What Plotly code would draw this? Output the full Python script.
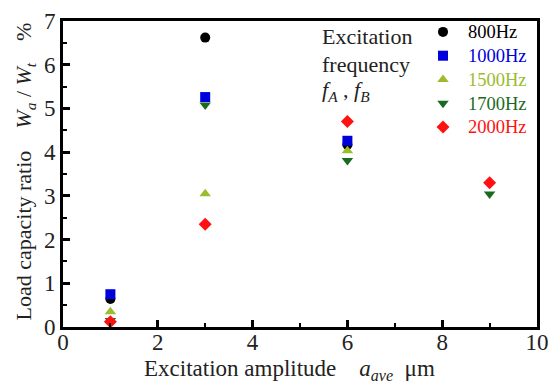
import plotly.graph_objects as go

# Data
amp_short = [1, 3, 6]
amp_long = [1, 3, 6, 9]
v800 = [0.64, 6.62, 4.17]
v1000 = [0.75, 5.26, 4.26]
v1500 = [0.35, 3.05, 4.03]
v1700 = [0.15, 5.08, 3.81, 3.04]
v2000 = [0.12, 2.35, 4.70, 3.30]

series = [
    ("800Hz", amp_short, v800, "#000000", "circle"),
    ("1000Hz", amp_short, v1000, "#0000dd", "square"),
    ("1500Hz", amp_short, v1500, "#9cbb2e", "triangle-up"),
    ("1700Hz", amp_long, v1700, "#1b6a22", "triangle-down"),
    ("2000Hz", amp_long, v2000, "#ff1111", "diamond"),
]

FONT = "Liberation Serif"
TXT = "#222"
SP = "&nbsp;"

def px_x(p):
    return (p - 63) / 486

def px_y(p):
    return 1 - (p - 21) / 306

fig = go.Figure()
for name, xs, ys, col, sym in series:
    fig.add_trace(go.Scatter(
        x=xs, y=ys, mode="markers",
        name=f'<span style="color:{col};font-size:18.5px">{name}</span>',
        marker=dict(color=col, symbol=sym, size=10, line=dict(width=0)),
    ))

axis_common = dict(
    showline=True, linecolor="black", linewidth=3, mirror=True,
    ticks="inside", ticklen=7, tickwidth=3, tickcolor="black",
    showgrid=False, zeroline=False, ticklabeloverflow="allow",
    tickfont=dict(family=FONT, size=23, color=TXT),
)

fig.update_xaxes(range=[0, 10], dtick=2, tick0=0, ticklabelstandoff=-8,
                 minor=dict(ticks="inside", ticklen=4, tickwidth=2, dtick=1, tickcolor="black"),
                 **axis_common)
fig.update_yaxes(range=[0, 7], dtick=1, tick0=0,
                 minor=dict(ticks="inside", ticklen=4, tickwidth=2, dtick=0.5, tickcolor="black"),
                 **axis_common)

# axis titles
fig.add_annotation(
    xref="paper", yref="paper", x=px_x(295), y=px_y(370),
    xanchor="center", yanchor="middle", showarrow=False,
    text="Excitation amplitude" + SP * 4 + "<i>a</i><sub><i>ave</i></sub>" + SP * 2 + "μm",
    font=dict(family=FONT, size=23, color=TXT),
)
fig.add_annotation(
    xref="paper", yref="paper", x=px_x(24), y=px_y(171.5),
    xanchor="center", yanchor="middle", showarrow=False, textangle=-90,
    text="Load capacity ratio" + SP * 4 + "<i>W<sub>a</sub></i> / <i>W<sub>t</sub></i>" + SP * 4 + "%",
    font=dict(family=FONT, size=22, color=TXT),
)

# legend caption (three lines)
for txt, yc in [("Excitation", 36), ("frequency", 65),
                ("<i>f<sub>A</sub></i> , <i>f<sub>B</sub></i>", 91)]:
    fig.add_annotation(
        xref="paper", yref="paper", x=px_x(327), y=px_y(yc),
        xanchor="left", yanchor="middle", align="left", showarrow=False,
        text=txt, font=dict(family=FONT, size=22, color=TXT),
    )

fig.update_layout(
    width=557, height=381,
    font=dict(family=FONT, size=22, color=TXT),
    margin=dict(l=63, r=8, t=21, b=54),
    paper_bgcolor="white", plot_bgcolor="white",
    showlegend=True,
    legend=dict(x=px_x(427), y=px_y(15), xanchor="left", yanchor="top",
                bgcolor="rgba(0,0,0,0)", itemwidth=40,
                font=dict(family=FONT, size=16, color=TXT), tracegroupgap=0),
)

fig.write_html("out.html", post_script="document.body.style.margin='0';",
               config={"displayModeBar": False})
